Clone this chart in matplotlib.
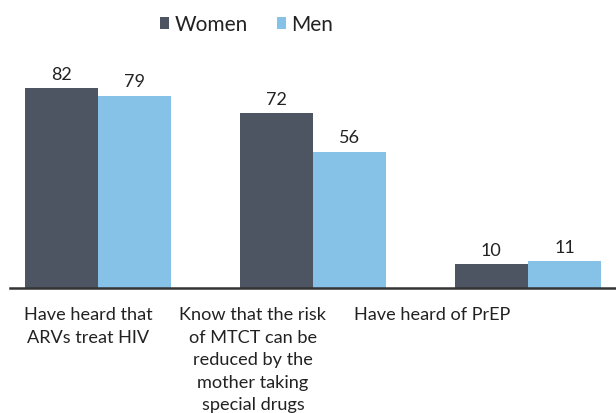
import matplotlib.pyplot as plt
import matplotlib.transforms as mtransforms
import numpy as np

categories = ["Have heard that\nARVs treat HIV",
              "Know that the risk\nof MTCT can be\nreduced by the\nmother taking\nspecial drugs",
              "Have heard of PrEP"]
women = [82, 72, 10]
men = [79, 56, 11]
series_names = ["Women", "Men"]

dark = "#4c5561"
light = "#86c1e8"
text_color = "#222222"

plt.rcParams['font.family'] = ['Lato', 'DejaVu Sans']

fig = plt.figure(figsize=(6.16, 4.14), dpi=100)
ax = fig.add_axes([0.016, 0.302, 0.984, 0.553])

x = np.arange(len(categories))
w = 0.34
b1 = ax.bar(x - w / 2, women, w, color=dark, label=series_names[0])
b2 = ax.bar(x + w / 2, men, w, color=light, label=series_names[1])

for bars in (b1, b2):
    for r in bars:
        ax.text(r.get_x() + r.get_width() / 2, r.get_height() + 2.5,
                f"{r.get_height():.0f}", ha="center", va="bottom",
                fontsize=13, color=text_color)

ax.set_xlim(-0.41, 2.41)
ax.set_ylim(0, 94)
ax.set_yticks([])
ax.set_xticks(x)
ax.set_xticklabels(categories, fontsize=13.1, color=text_color, linespacing=1.5)
ax.tick_params(axis="x", length=0, pad=13)

# the category text boxes sit left of their bar pairs in the original
shifts = [-0.10, -0.60, -0.96]
for lab, dx in zip(ax.get_xticklabels(), shifts):
    lab.set_transform(lab.get_transform() +
                      mtransforms.ScaledTranslation(dx, 0, fig.dpi_scale_trans))

for s in ("top", "right", "left"):
    ax.spines[s].set_visible(False)
ax.spines["bottom"].set_color("#333333")
ax.spines["bottom"].set_linewidth(1.8)

fig.legend(handles=[b1, b2], labels=series_names, loc="upper center",
           bbox_to_anchor=(0.40, 1.008), ncol=2, frameon=False, fontsize=15,
           handlelength=0.45, handleheight=0.45, handletextpad=0.25,
           columnspacing=1.4, labelcolor=text_color)

fig.savefig("out.png", dpi=100)
